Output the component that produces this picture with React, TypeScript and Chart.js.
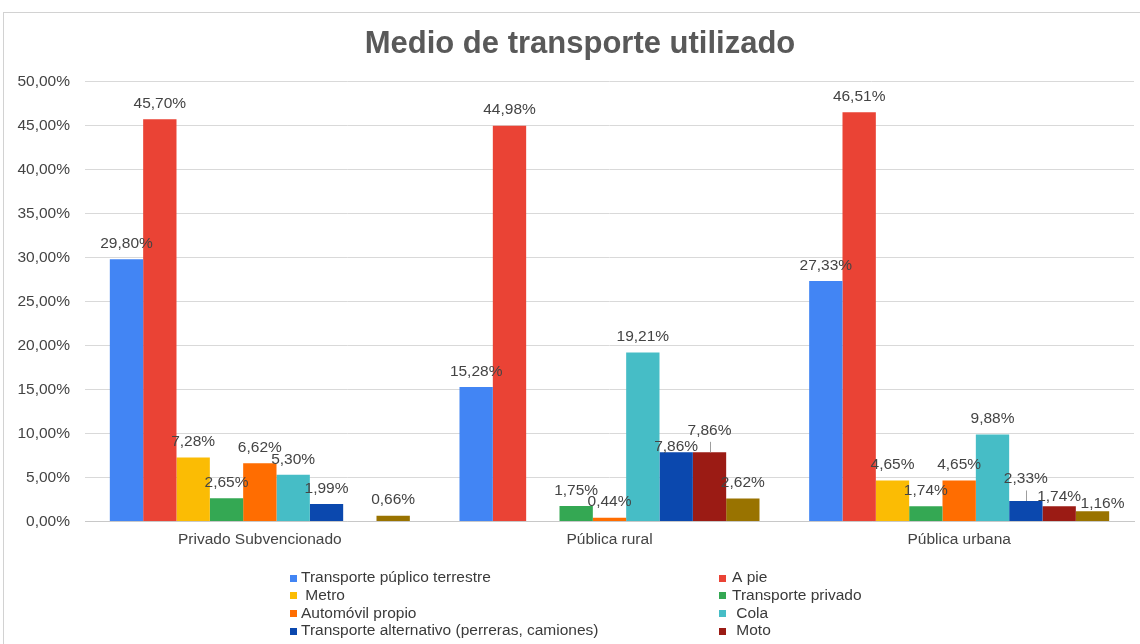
import React, { useEffect, useRef } from "react";
import { Chart, registerables } from "chart.js";

Chart.register(...registerables);

const categories = ["Privado Subvencionado", "Pública rural", "Pública urbana"];

const seriesNames = [
  "Transporte púplico terrestre",
  "A pie",
  " Metro",
  "Transporte privado",
  "Automóvil propio",
  " Cola",
  "Transporte alternativo (perreras, camiones)",
  " Moto",
  "Otro",
];

const transportePublico = [29.8, 15.28, 27.33];
const aPie = [45.7, 44.98, 46.51];
const metro = [7.28, null, 4.65];
const transportePrivado = [2.65, 1.75, 1.74];
const automovilPropio = [6.62, 0.44, 4.65];
const cola = [5.3, 19.21, 9.88];
const transporteAlternativo = [1.99, 7.86, 2.33];
const moto = [null, 7.86, 1.74];
const otro = [0.66, 2.62, 1.16];

const seriesValues = [
  transportePublico,
  aPie,
  metro,
  transportePrivado,
  automovilPropio,
  cola,
  transporteAlternativo,
  moto,
  otro,
];

const seriesColors = [
  "#4285F4",
  "#EA4335",
  "#FBBC04",
  "#34A853",
  "#FF6D01",
  "#46BDC6",
  "#0B48AE",
  "#9B1B14",
  "#997300",
];

const yMin = 0;
const yMax = 50;
const yStep = 5;

const FONT = '"Liberation Sans", Arial, sans-serif';
const TEXT = "#444444";

// label nudges (style only): key "dataset-category"
const labelAdjust: Record<string, { dx: number; dy: number; leader?: boolean }> = {
  "6-1": { dx: 0, dy: 9.5 },
  "7-1": { dx: 0, dy: -6.5, leader: true },
  "6-2": { dx: 0, dy: -6.5, leader: true },
  "7-2": { dx: 0, dy: 6 },
  "8-2": { dx: 10, dy: 8 },
};

const fmt = (v: number) => v.toFixed(2).replace(".", ",") + "%";

const valueLabels = {
  id: "valueLabels",
  afterDatasetsDraw(chart: any) {
    const ctx = chart.ctx;
    ctx.save();
    ctx.font = `15.5px ${FONT}`;
    ctx.fillStyle = TEXT;
    ctx.textAlign = "center";
    ctx.textBaseline = "middle";
    chart.data.datasets.forEach((ds: any, di: number) => {
      const meta = chart.getDatasetMeta(di);
      meta.data.forEach((bar: any, ci: number) => {
        const v = ds.data[ci];
        if (v == null) return;
        const adj = labelAdjust[`${di}-${ci}`] || { dx: 0, dy: 0 };
        const x = bar.x + adj.dx;
        const y = bar.y - 15.5 + adj.dy;
        ctx.fillStyle = TEXT;
        ctx.fillText(fmt(v), x, y);
        if (adj.leader) {
          ctx.strokeStyle = "#9e9e9e";
          ctx.lineWidth = 1;
          ctx.beginPath();
          ctx.moveTo(Math.round(bar.x) + 0.5, y + 11.5);
          ctx.lineTo(Math.round(bar.x) + 0.5, bar.y);
          ctx.stroke();
        }
      });
    });
    ctx.restore();
  },
};

const titleAndLegend = {
  id: "titleAndLegend",
  afterDraw(chart: any) {
    const ctx = chart.ctx;
    ctx.save();
    ctx.font = `bold 31px ${FONT}`;
    ctx.fillStyle = "#595959";
    ctx.textAlign = "center";
    ctx.textBaseline = "alphabetic";
    ctx.fillText("Medio de transporte utilizado", 580, 53);

    ctx.font = `15.5px ${FONT}`;
    ctx.textAlign = "left";
    ctx.textBaseline = "middle";
    const colBox = [290, 719];
    const colText = [301, 732];
    const rowY0 = 578;
    const rowGap = 17.7;
    for (let i = 0; i < 8; i++) {
      const col = i % 2;
      const row = Math.floor(i / 2);
      const cy = rowY0 + row * rowGap;
      ctx.fillStyle = seriesColors[i];
      ctx.fillRect(colBox[col], Math.round(cy - 3.5), 7, 7);
      ctx.fillStyle = "#3a3a3a";
      ctx.fillText(seriesNames[i], colText[col], cy);
    }
    ctx.restore();
  },
};

export default function App() {
  const ref = useRef<HTMLCanvasElement | null>(null);

  useEffect(() => {
    if (!ref.current) return;
    const chart = new Chart(ref.current, {
      type: "bar",
      data: {
        labels: categories,
        datasets: seriesValues.map((vals, i) => ({
          label: seriesNames[i],
          data: vals,
          backgroundColor: seriesColors[i],
          borderWidth: 0,
          categoryPercentage: 0.858,
          barPercentage: 1,
        })),
      },
      options: {
        responsive: false,
        animation: false,
        devicePixelRatio: 1,
        layout: { padding: { left: 0, right: 6, top: 81.5, bottom: 92.5 } },
        plugins: {
          legend: { display: false },
          title: { display: false },
          tooltip: { enabled: false },
        },
        scales: {
          x: {
            grid: { display: false, drawTicks: false },
            border: { color: "#c8c8c8" },
            ticks: {
              color: TEXT,
              font: { family: FONT, size: 15.5 },
              padding: 9,
              maxRotation: 0,
              autoSkip: false,
            },
            afterFit: (s: any) => {
              s.height = 30;
            },
          },
          y: {
            min: yMin,
            max: yMax,
            grid: { color: "#d9d9d9", drawTicks: false },
            border: { display: false },
            ticks: {
              stepSize: yStep,
              color: TEXT,
              font: { family: FONT, size: 15.5 },
              padding: 15,
              callback: (v: any) => fmt(Number(v)),
            },
            afterFit: (s: any) => {
              s.width = 85;
            },
          },
        },
      },
      plugins: [valueLabels, titleAndLegend],
    });
    return () => chart.destroy();
  }, []);

  return (
    <div
      style={{
        position: "absolute",
        left: 0,
        top: 0,
        width: 1140,
        height: 644,
        overflow: "hidden",
        background: "#ffffff",
      }}
    >
      <div
        style={{
          position: "absolute",
          left: 3,
          top: 12,
          width: 1160,
          height: 660,
          borderLeft: "1px solid #d2d2d2",
          borderTop: "1px solid #d2d2d2",
        }}
      />
      <canvas
        ref={ref}
        width={1140}
        height={644}
        style={{ position: "absolute", left: 0, top: 0, width: 1140, height: 644 }}
      />
    </div>
  );
}
